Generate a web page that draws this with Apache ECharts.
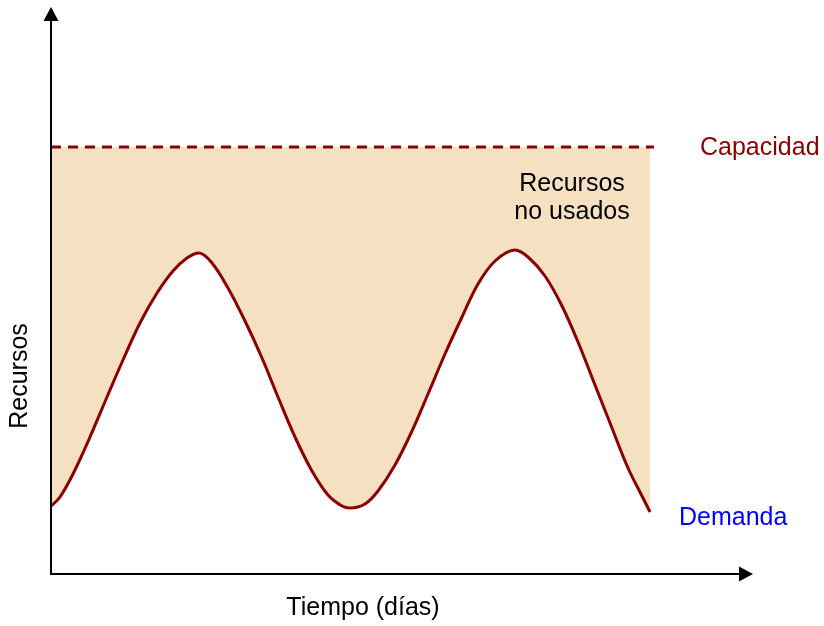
<!DOCTYPE html>
<html>
<head>
<meta charset="utf-8">
<title>Capacidad vs demanda</title>
<script src="https://cdn.jsdelivr.net/npm/echarts@6.0.0/dist/echarts.min.js"></script>
<style>
  html, body { margin: 0; padding: 0; background: #fff; }
  #chart { width: 824px; height: 626px; }
</style>
</head>
<body>
<div id="chart"></div>
<script>
// tiempo (eje x) y demanda (eje y), unidades arbitrarias
var tiempo = [0, 9, 22, 39, 56, 72, 89, 106, 122, 136, 148, 161, 177, 194, 211, 227, 244, 261, 277, 291, 299,
  314, 327, 344, 361, 377, 394, 411, 427, 444, 464, 477, 494, 511, 527, 544, 561, 577, 591, 599];
var demanda = [68, 77, 100, 137, 177, 214, 251, 281, 303, 316, 321, 311, 286, 253, 216, 177, 137, 103, 79, 68, 66,
  70, 83, 109, 143, 180, 220, 257, 290, 313, 324, 317, 298, 268, 232, 189, 146, 106, 78, 62];
var capacidad = 427;
var tramoRelleno = [0, 599];
var tramoCapacidad = [0, 603];

var fuente = "'Liberation Sans', Arial, sans-serif";
var rojo = "#8b0000";

var puntosDemanda = tiempo.map(function(t, i) { return [t, demanda[i]]; });
var puntosRelleno = tramoRelleno.map(function(t) { return [t, capacidad]; });
var puntosCapacidad = tramoCapacidad.map(function(t) { return [t, capacidad]; });

function eje(max) {
  return {
    type: "value",
    min: 0,
    max: max,
    z: 10,
    axisLine: {
      show: true,
      symbol: ["none", "triangle"],
      symbolSize: [15, 14],
      lineStyle: { color: "#000", width: 2 }
    },
    axisTick: { show: false },
    axisLabel: { show: false },
    splitLine: { show: false }
  };
}

function texto(t, x, y, color, extra) {
  var el = {
    type: "text", x: x, y: y, z: 20,
    style: { text: t, font: "25px " + fuente, fill: color, align: "left", verticalAlign: "middle" }
  };
  for (var k in extra) {
    if (k === "rotation") el.rotation = extra[k];
    else el.style[k] = extra[k];
  }
  return el;
}

var chart = echarts.init(document.getElementById("chart"), null, { renderer: "canvas" });
chart.setOption({
  animation: false,
  grid: { left: 51, right: 78, top: 14, bottom: 52, outerBoundsMode: "none" },
  xAxis: eje(695),
  yAxis: eje(560),
  series: [
    {
      // zona beige bajo la capacidad
      name: "Recursos no usados",
      type: "line",
      symbol: "none",
      z: 1,
      lineStyle: { width: 0, opacity: 0 },
      areaStyle: { color: "#f5e1c2", opacity: 1 },
      data: puntosRelleno
    },
    {
      // la demanda tapa en blanco lo que queda debajo
      name: "Demanda",
      type: "line",
      smooth: 0.35,
      symbol: "none",
      z: 3,
      lineStyle: { color: rojo, width: 3 },
      areaStyle: { color: "#fff", opacity: 1 },
      data: puntosDemanda
    },
    {
      name: "Capacidad",
      type: "line",
      symbol: "none",
      z: 4,
      lineStyle: { color: rojo, width: 3, type: [10, 7] },
      data: puntosCapacidad
    }
  ],
  graphic: [
    texto("Recursos\nno usados", 572, 198, "#000", { align: "center", lineHeight: 28 }),
    texto("Capacidad", 700, 148, rojo),
    texto("Demanda", 679, 518, "#0000ff"),
    texto("Recursos", 20, 376, "#000", { align: "center", rotation: Math.PI / 2 }),
    texto("Tiempo (días)", 363, 608, "#000", { align: "center" })
  ]
});
</script>
</body>
</html>
